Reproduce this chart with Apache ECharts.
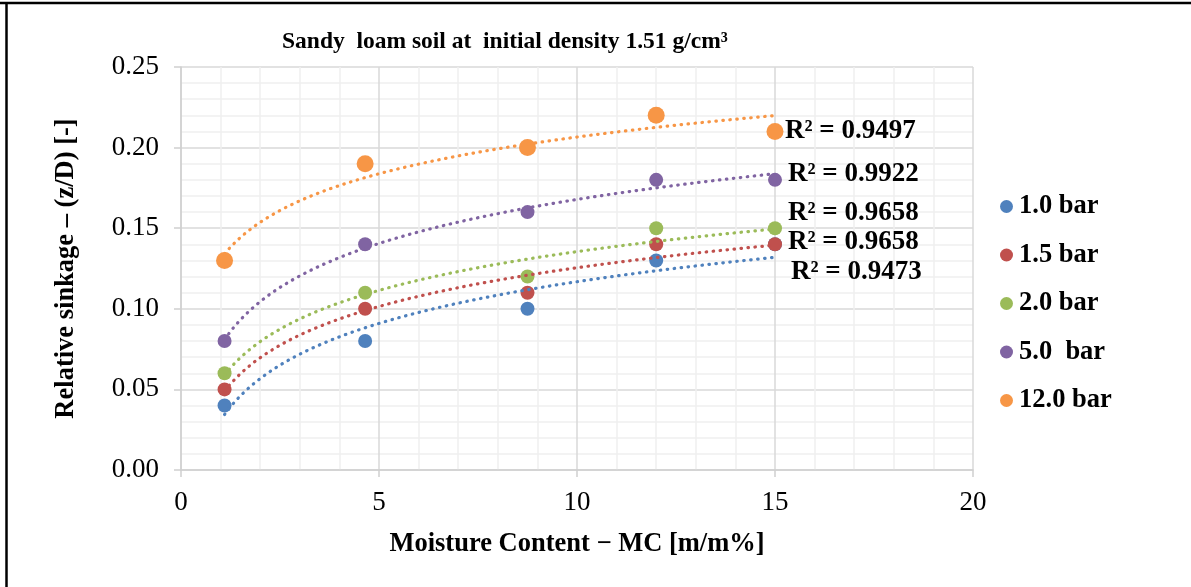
<!DOCTYPE html>
<html>
<head>
<meta charset="utf-8">
<script src="https://cdn.jsdelivr.net/npm/echarts@6/dist/echarts.min.js"></script>
<style>
  html, body { margin: 0; padding: 0; background: #fff; }
  #chart { width: 1191px; height: 587px; }
</style>
</head>
<body>
<div id="chart"></div>
<script>
// Moisture content levels (x) and relative sinkage per inflation pressure
const moisture = [1.1, 4.65, 8.75, 12, 15];
const sink10 = [0.04, 0.08, 0.10, 0.13, 0.14];
const sink15 = [0.05, 0.10, 0.11, 0.14, 0.14];
const sink20 = [0.06, 0.11, 0.12, 0.15, 0.15];
const sink50 = [0.08, 0.14, 0.16, 0.18, 0.18];
const sink120 = [0.13, 0.19, 0.20, 0.22, 0.21];

const seriesNames = ['1.0 bar', '1.5 bar', '2.0 bar', '5.0  bar', '12.0 bar'];
const rSquaredText = ['R² = 0.9473', 'R² = 0.9658', 'R² = 0.9658', 'R² = 0.9922', 'R² = 0.9497'];

const FONT = '"Liberation Serif", "Times New Roman", serif';
const colors = ['#4F81BD', '#C0504D', '#9BBB59', '#8064A2', '#F79646'];
const markerSizes = [14, 14, 14, 14, 17];
const allSink = [sink10, sink15, sink20, sink50, sink120];
// label offsets from the trendline end (pixels)
const labelDx = [16, 13, 13, 13, 10];
const labelDy = [15, -3, -16, 0, 15];

// Logarithmic least-squares trendline: y = a ln(x) + b
function logFit(x, y) {
  const lx = x.map(Math.log);
  const n = x.length;
  const mx = lx.reduce((s, v) => s + v, 0) / n;
  const my = y.reduce((s, v) => s + v, 0) / n;
  let sxy = 0, sxx = 0;
  for (let i = 0; i < n; i++) {
    sxy += (lx[i] - mx) * (y[i] - my);
    sxx += (lx[i] - mx) * (lx[i] - mx);
  }
  const a = sxy / sxx;
  return { a: a, b: my - a * mx };
}
function trendCurve(x, y) {
  const f = logFit(x, y);
  const x0 = Math.min.apply(null, x), x1 = Math.max.apply(null, x);
  const pts = [];
  const steps = 120;
  for (let i = 0; i <= steps; i++) {
    const xx = x0 + (x1 - x0) * i / steps;
    pts.push([xx, f.a * Math.log(xx) + f.b]);
  }
  return pts;
}

const scatterSeries = allSink.map((ys, i) => ({
  name: seriesNames[i],
  type: 'scatter',
  data: moisture.map((m, j) => [m, ys[j]]),
  symbol: 'circle',
  symbolSize: markerSizes[i],
  itemStyle: { color: colors[i], opacity: 1 },
  z: 2
}));
const trends = allSink.map(ys => trendCurve(moisture, ys));
const trendSeries = trends.map((pts, i) => ({
  name: 'trend ' + seriesNames[i],
  type: 'line',
  data: pts,
  showSymbol: false,
  symbol: 'none',
  silent: true,
  lineStyle: { color: colors[i], width: 3.2, type: [0.5, 6.5], cap: 'round' },
  z: 3
}));

const chart = echarts.init(document.getElementById('chart'), null, { renderer: 'canvas' });

const axisCommon = {
  type: 'value',
  axisLine: { show: true, lineStyle: { color: '#cfcfcf', width: 1.5 } },
  axisTick: { show: true, length: 7, lineStyle: { color: '#cfcfcf', width: 1.5 } },
  splitLine: { show: true, lineStyle: { color: '#d9d9d9', width: 1.5 } },
  minorTick: { show: false, splitNumber: 5 },
  minorSplitLine: { show: true, lineStyle: { color: '#efefef', width: 1.5 } },
  nameLocation: 'middle',
  nameTextStyle: { fontFamily: FONT, fontWeight: 'bold', fontSize: 26.5, color: '#000' }
};

chart.setOption({
  animation: false,
  backgroundColor: '#fff',
  title: {
    text: 'Sandy  loam soil at  initial density 1.51 g/cm³',
    left: 277,
    top: 25,
    textStyle: { fontFamily: FONT, fontWeight: 'bold', fontSize: 23.5, color: '#000' }
  },
  grid: { left: 181, right: 218, top: 67, bottom: 117 },
  xAxis: Object.assign({}, axisCommon, {
    min: 0, max: 20, interval: 5,
    name: 'Moisture Content − MC [m/m%]',
    nameGap: 61,
    axisLabel: { margin: 19, fontFamily: FONT, fontSize: 27, color: '#000' }
  }),
  yAxis: Object.assign({}, axisCommon, {
    min: 0, max: 0.25, interval: 0.05,
    name: 'Relative sinkage – (z/D) [-]',
    nameGap: 101,
    axisLabel: { margin: 22, fontFamily: FONT, fontSize: 27, color: '#000',
                 formatter: v => v.toFixed(2) }
  }),
  legend: {
    data: seriesNames,
    orient: 'vertical',
    left: 995,
    top: 188,
    itemWidth: 13,
    itemHeight: 13,
    itemGap: 21.5,
    icon: 'circle',
    textStyle: { fontFamily: FONT, fontWeight: 'bold', fontSize: 26.5, color: '#000',
                 lineHeight: 25, padding: [0, 0, 0, 1] }
  },
  series: scatterSeries.concat(trendSeries)
});

// Coefficient-of-determination labels next to each trendline end, plus frame lines
const graphics = [
  { type: 'line', shape: { x1: 0, y1: 3, x2: 1191, y2: 3 },
    style: { stroke: '#000', lineWidth: 2.5 }, z: 10 },
  { type: 'line', shape: { x1: 6.5, y1: 3, x2: 6.5, y2: 587 },
    style: { stroke: '#000', lineWidth: 2.5 }, z: 10 }
];
trends.forEach((pts, i) => {
  const end = pts[pts.length - 1];
  const p = chart.convertToPixel({ gridIndex: 0 }, end);
  graphics.push({
    type: 'text',
    x: p[0] + labelDx[i],
    y: p[1] + labelDy[i],
    z: 10,
    style: {
      text: rSquaredText[i],
      fontFamily: FONT,
      fontWeight: 'bold',
      fontSize: 27,
      fill: '#000',
      verticalAlign: 'middle',
      align: 'left'
    }
  });
});
chart.setOption({ graphic: graphics });
</script>
</body>
</html>
